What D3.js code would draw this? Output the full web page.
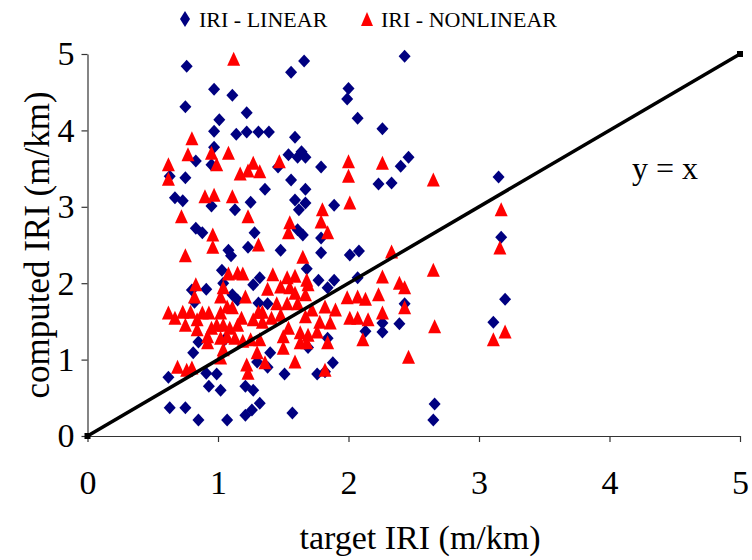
<!DOCTYPE html>
<html><head><meta charset="utf-8">
<script src="https://cdn.jsdelivr.net/npm/d3@7"></script>
<style>body{margin:0;background:#fff}svg{display:block}</style>
</head><body>
<svg id="c" width="752" height="560"></svg>
<script>
// ---- data ----
const linearX = [0.76,0.97,1.11,0.75,1.01,1.22,0.97,1.14,1.22,0.97,0.83,0.95,0.63,0.75,
1.66,1.56,2.00,1.99,2.07,1.31,1.39,1.59,1.54,1.64,1.67,1.61,1.79,1.46,1.56,
0.67,0.73,0.95,1.13,1.25,0.83,0.88,1.08,1.10,1.23,1.03,1.04,0.91,0.80,1.11,1.15,
1.67,1.36,1.59,1.67,1.62,1.89,1.28,1.61,1.65,1.79,1.48,1.79,2.01,2.08,1.68,1.32,1.27,1.77,1.89,2.07,1.84,1.31,1.38,
0.82,0.85,0.81,0.62,0.91,0.99,0.93,1.02,1.21,0.63,0.75,0.85,1.07,1.21,1.05,
1.40,1.30,1.38,1.27,1.51,1.76,1.88,1.82,1.69,1.84,2.13,1.32,1.26,1.57,
2.43,2.26,2.46,2.40,2.23,2.33,3.15,3.17,3.20,3.11,2.39,2.43,2.26,2.26,2.66,2.65];
const linearY = [4.84,4.54,4.46,4.31,4.14,4.23,3.99,3.95,3.98,3.78,3.60,3.55,3.40,3.38,
4.91,4.76,4.55,4.41,4.16,3.98,3.98,3.91,3.68,3.72,3.65,3.65,3.52,3.52,3.35,
3.12,3.08,3.01,2.96,3.06,2.72,2.66,2.43,2.36,2.47,2.17,2.00,1.92,1.91,1.85,1.78,
3.23,3.23,3.09,3.05,2.96,3.02,2.66,2.70,2.63,2.59,2.43,2.40,2.37,2.42,2.19,2.07,1.98,2.04,2.04,2.07,1.94,1.74,1.73,
1.75,1.23,1.09,0.77,0.82,0.81,0.65,0.60,0.65,0.37,0.37,0.21,0.21,0.27,1.26,
1.09,0.97,0.90,0.60,0.81,0.81,0.96,0.84,1.16,1.28,1.37,0.43,0.34,0.30,
4.97,4.02,3.65,3.53,3.30,3.31,3.39,2.60,1.79,1.49,1.47,1.73,1.36,1.48,0.42,0.21];
const nonlinearX = [1.12,0.80,0.77,0.95,1.08,0.99,0.62,0.62,1.17,1.23,1.27,1.47,1.32,2.00,2.00,
0.90,0.97,1.11,1.23,0.72,0.96,0.96,0.75,1.08,1.15,1.19,0.83,0.82,1.04,1.02,1.21,
2.01,1.80,1.79,1.55,1.54,1.84,1.31,1.65,1.42,1.53,1.59,1.68,1.69,1.48,1.55,1.38,1.59,1.67,1.45,1.53,1.61,1.99,2.07,2.13,1.82,1.90,
0.62,0.67,0.73,0.79,0.75,0.84,0.88,0.93,0.84,0.95,0.99,1.04,1.09,1.15,1.02,1.07,1.11,0.92,1.02,1.07,1.13,1.19,1.04,1.02,0.92,1.22,1.23,0.69,0.76,0.80,
1.30,1.36,1.59,1.82,1.50,1.63,1.68,1.63,1.69,1.50,1.54,1.32,1.25,1.76,1.84,1.78,1.86,1.67,1.72,2.01,2.07,2.11,1.27,1.34,1.31,1.34,1.41,1.48,1.18,
2.33,2.65,2.26,2.39,2.43,2.23,2.26,2.43,2.15,2.66,2.46,3.16,3.20,3.11,2.26,2.65,3.17];
const nonlinearY = [4.93,3.89,3.68,3.70,3.70,3.55,3.55,3.36,3.43,3.47,3.57,3.59,3.46,3.59,3.40,
3.13,3.15,3.13,2.87,2.87,2.63,2.47,2.36,2.12,2.13,2.12,1.98,1.82,1.94,1.82,1.82,
3.05,2.96,2.80,2.79,2.66,2.66,2.50,2.34,2.11,2.07,2.09,2.04,1.98,1.95,1.94,1.92,1.87,1.85,1.73,1.73,1.73,1.81,1.82,1.79,1.69,1.65,
1.61,1.54,1.62,1.62,1.45,1.52,1.61,1.61,1.39,1.41,1.45,1.45,1.41,1.45,1.61,1.69,1.68,1.30,1.28,1.30,1.28,1.24,1.13,1.02,1.22,0.93,0.82,0.90,0.86,0.89,
1.09,0.96,0.97,0.86,1.15,1.22,1.22,1.35,1.32,1.30,1.41,1.26,1.26,1.36,1.22,1.49,1.48,1.56,1.65,1.54,1.54,1.26,1.52,1.49,1.62,1.62,1.54,1.58,1.54,
2.41,2.17,2.08,2.00,1.94,1.85,1.61,1.68,1.52,1.43,1.03,2.46,1.36,1.26,3.57,3.35,2.96];
const xTicks = [0,1,2,3,4,5];
const yTicks = [0,1,2,3,4,5];
const refLine = [0,5];
const seriesNames = ["IRI - LINEAR","IRI - NONLINEAR"];
const xTitle = "target IRI (m/km)";
const yTitle = "computed IRI (m/km)";
const lineLabel = "y = x";

// ---- drawing ----
const svg = d3.select("#c");
const serif = "'Liberation Serif','Times New Roman',serif";
const x = d3.scaleLinear().domain([0,5]).range([87.5,740]);
const y = d3.scaleLinear().domain([0,5]).range([436,54]);
const blue = "#000080", red = "#FF0000";
const diamond = "M0,-6.5L6,0L0,6.5L-6,0Z";
const tri = "M0,-7.5L6.5,6.5L-6.5,6.5Z";

const gx = svg.append("g").attr("transform","translate(0,436)")
  .call(d3.axisBottom(x).tickValues(xTicks).tickFormat(d3.format("d")).tickSize(6).tickSizeOuter(0).tickPadding(28));
const gy = svg.append("g").attr("transform","translate(87.5,0)")
  .call(d3.axisLeft(y).tickValues(yTicks).tickFormat(d3.format("d")).tickSize(6).tickSizeOuter(0).tickPadding(7));
[gx,gy].forEach(g=>{
  g.selectAll("path,line").attr("stroke","#333").attr("stroke-width",1.2);
  g.selectAll("text").attr("font-family",serif).attr("font-size",34).attr("fill","#000");
});

const linear = linearX.map((v,i)=>({x:v,y:linearY[i]}));
const nonlinear = nonlinearX.map((v,i)=>({x:v,y:nonlinearY[i]}));

svg.append("g").selectAll("path").data(linear).join("path")
  .attr("d",diamond).attr("fill",blue)
  .attr("transform",d=>`translate(${x(d.x)},${y(d.y)})`);
svg.append("g").selectAll("path").data(nonlinear).join("path")
  .attr("d",tri).attr("fill",red)
  .attr("transform",d=>`translate(${x(d.x)},${y(d.y)})`);

svg.append("line")
  .attr("x1",x(refLine[0])).attr("y1",y(refLine[0]))
  .attr("x2",x(refLine[1])).attr("y2",y(refLine[1]))
  .attr("stroke","#000").attr("stroke-width",3.5);
svg.append("g").selectAll("rect").data(refLine).join("rect")
  .attr("x",d=>x(d)-3).attr("y",d=>y(d)-3).attr("width",6).attr("height",6).attr("fill","#000");

svg.append("text").attr("x",632).attr("y",179).attr("font-family",serif).attr("font-size",32)
  .text(lineLabel);

// titles
svg.append("text").attr("x",420).attr("y",549).attr("text-anchor","middle")
  .attr("font-family",serif).attr("font-size",34).text(xTitle);
svg.append("text").attr("transform","translate(49,245) rotate(-90)").attr("text-anchor","middle")
  .attr("font-family",serif).attr("font-size",35).text(yTitle);

// legend
svg.append("path").attr("d","M0,-8L5,0L0,8L-5,0Z").attr("fill",blue).attr("transform","translate(185,19)");
svg.append("text").attr("x",199).attr("y",27).attr("font-family",serif).attr("font-size",22).text(seriesNames[0]);
svg.append("path").attr("d","M0,-7L6,7L-6,7Z").attr("fill",red).attr("transform","translate(367,19)");
svg.append("text").attr("x",381).attr("y",27).attr("font-family",serif).attr("font-size",22).text(seriesNames[1]);
</script>
</body></html>
